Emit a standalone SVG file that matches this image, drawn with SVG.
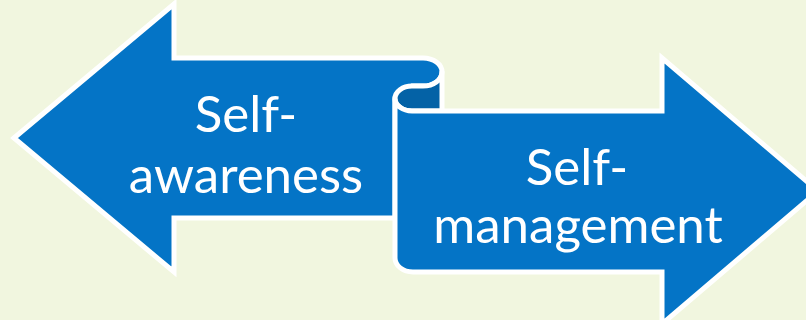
<svg xmlns="http://www.w3.org/2000/svg" width="806" height="320" viewBox="0 0 806 320">
<style>
.front{fill:#0474C6;stroke:#FFFFFF;stroke-width:5;stroke-linejoin:miter}
.back{fill:#0462A6;stroke:#FFFFFF;stroke-width:5;stroke-linejoin:round}
.lbl{font-family:Lato,"Liberation Sans",sans-serif;font-size:51px;fill:#FFFFFF;text-anchor:middle}
</style>
<rect width="806" height="320" fill="#F1F6DF"/>
<g id="left-arrow">
<path class="front" d="M14,138 L174,4 L174,58 L423,58 A19,14 0 0 1 423,86 L412,86 L395,98 L395,218 L174,218 L174,272 Z"/>
</g>
<g id="curl-back">
<path class="back" d="M442,72 A19,14 0 0 1 423,86 L412,86 A17,12.5 0 0 0 412,111 L442,111 Z"/>
</g>
<g id="right-arrow">
<path class="front" d="M395,98.5 A17,12.5 0 0 0 412,111 L662,111 L662,58 L818,191 L662,324 L662,272 L413,272 A18,14 0 0 1 395,258 Z"/>
</g>
<g id="label-left">
<text class="lbl" x="246" y="132">Self-</text>
<text class="lbl" x="246" y="193">awareness</text>
</g>
<g id="label-right">
<text class="lbl" x="577" y="185">Self-</text>
<text class="lbl" x="578" y="243">management</text>
</g>
</svg>
